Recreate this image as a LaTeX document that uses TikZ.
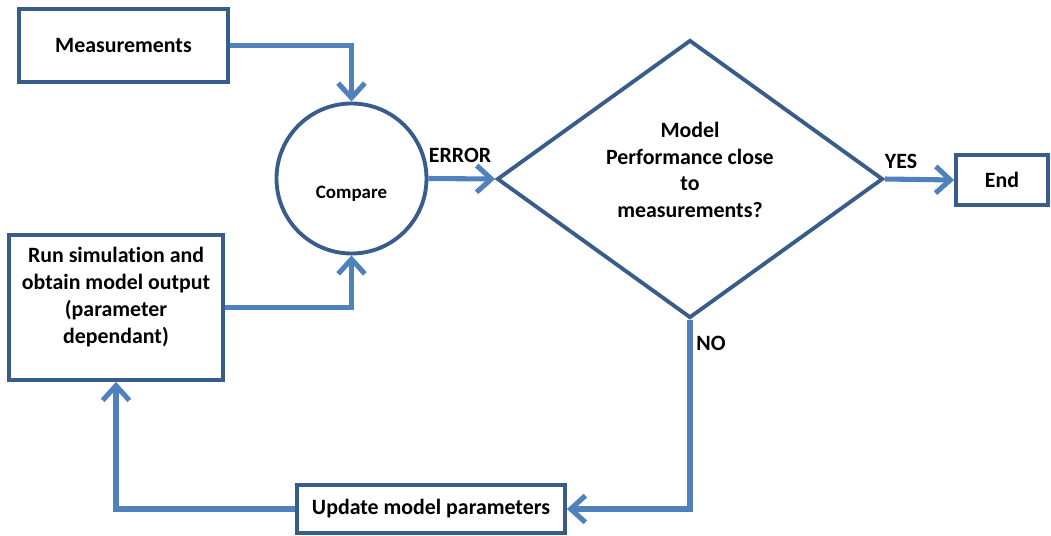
\documentclass[tikz,border=0pt]{standalone}
\usepackage{fontspec}
\setmainfont{Carlito}[Ligatures=NoCommon]
\usetikzlibrary{shapes.geometric,arrows.meta}
\definecolor{boxblue}{RGB}{56,93,138}
\definecolor{lineblue}{RGB}{79,129,189}
\newcommand{\boxfont}{\bfseries\fontsize{16.4}{19.8}\selectfont}
\newcommand{\cmpfont}{\bfseries\fontsize{14.2}{17}\selectfont}

\begin{document}
\begin{tikzpicture}[x=0.75pt,y=0.75pt,yscale=-1,xscale=1,
  box/.style={draw=boxblue,line width=2.9pt,fill=white,inner sep=0pt,align=center,font=\boxfont},
  conn/.style={draw=lineblue,line width=3.8pt,-{Straight Barb[length=11pt,width=20pt]}},
  lbl/.style={inner sep=0pt,align=center,font=\boxfont}]
\useasboundingbox (0,0) rectangle (1051,536);

%Shape: Rectangle [measurements]
\node[box,minimum width=156.75pt,minimum height=54.75pt] (meas) at (123.5,45.5) {Measurements};
%Shape: Circle [compare]
\node[box,circle,minimum size=112.5pt] (cmp) at (351.5,178.5) {};
%Shape: Rectangle [simulation]
\node[box,minimum width=160.5pt,minimum height=108.75pt] (run) at (116,307.5) {};
%Shape: Diamond [decision]
\node[box,diamond,minimum width=289.5pt,minimum height=208.5pt] (dia) at (690,179) {};
%Shape: Rectangle [end]
\node[box,minimum width=69pt,minimum height=37.5pt] (endb) at (1002,180) {End};
%Shape: Rectangle [update]
\node[box,minimum width=201pt,minimum height=36pt] (upd) at (431,509) {Update model parameters};

% Text Node
\node[lbl,font=\cmpfont] (cmptxt) at (351.5,194) {Compare};
% Text Node
\node[lbl,font=\bfseries\fontsize{16.4}{20.3}\selectfont] (runtxt) at (116,297) {Run simulation and\\obtain model output\\(parameter\\dependant)};
% Text Node
\node[lbl] (qtxt) at (690,170) {Model\\Performance close\\to\\measurements?};

%Connectors
\draw[conn] (meas.east) -| (cmp.north);
\draw[conn] (run.east) -| (cmp.south);
\draw[conn] (cmp.east) -- (dia.west);
\draw[conn] (dia.east) -- (endb.west);
\draw[conn] (dia.south) |- (upd.east);
\draw[conn] (upd.west) -| (run.south);

% Text Node
\node[lbl] (errlbl) at (460,155) {ERROR};
% Text Node
\node[lbl] (yeslbl) at (901,161) {YES};
% Text Node
\node[lbl] (nolbl) at (711,343) {NO};

\end{tikzpicture}
\end{document}
